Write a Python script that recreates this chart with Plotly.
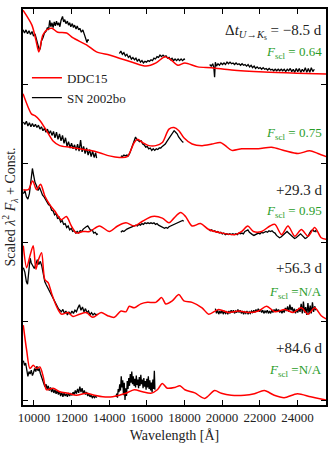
import plotly.graph_objects as go

# Spectra of SN 2002bo vs the DDC15 model, five epochs stacked with offsets.
# Flux values are relative to each epoch's offset (1 unit = spacing between epochs).

OFFSETS = [4, 3, 2, 1, 0]
EPOCH_LABELS = ["Δ<i>t</i><sub><i>U</i>→<i>K</i><sub>s</sub></sub> = −8.5 d", "", "+29.3 d", "+56.3 d", "+84.6 d"]
FSCL_LABELS = ["= 0.64", "= 0.75", "= 0.95", "=N/A", "=N/A"]
EPOCH_LABEL_Y = [4.67, None, 2.67, 1.68, 0.66]
FSCL_LABEL_Y = [4.41, 3.39, 2.39, 1.36, 0.38]

# ---- DDC15 model ----
MOD1_WL = [9420, 9894, 10106, 10264, 10475, 10686, 10950, 11266, 11741, 12058, 12797, 13325, 14011, 14538,
           15224, 15963, 16490, 16966, 17282, 17652, 18021, 18707, 19446, 20501, 22243, 23984, 25567]
MOD1_FL = [0.95, 0.76, 0.57, 0.42, 0.635, 0.70, 0.72, 0.67, 0.66, 0.60, 0.51, 0.42, 0.38, 0.34,
           0.29, 0.24, 0.28, 0.36, 0.32, 0.25, 0.28, 0.23, 0.22, 0.19, 0.165, 0.15, 0.14]

MOD2_WL = [9420, 9699, 9879, 10053, 10317, 10670, 11018, 11372, 11900, 12427, 12955, 13483, 14011, 14538,
           14960, 15330, 15504, 15768, 16121, 16475, 16823, 17177, 17441, 17704, 17968, 18406, 18934,
           19462, 19905, 20169, 20517, 21045, 21926, 22628, 23335, 24037, 24654, 25092, 25530]
MOD2_FL = [0.89, 0.715, 0.63, 0.61, 0.55, 0.42, 0.29, 0.23, 0.21, 0.19, 0.17, 0.14, 0.10, 0.08,
           0.09, 0.27, 0.31, 0.27, 0.23, 0.23, 0.27, 0.44, 0.46, 0.42, 0.33, 0.25, 0.23,
           0.25, 0.27, 0.23, 0.17, 0.19, 0.19, 0.21, 0.165, 0.13, 0.165, 0.13, 0.09]

MOD3_WL = [9435, 9699, 9931, 10142, 10354, 10580, 10844, 11108, 11462, 11726, 11989, 12253, 12602, 12955,
           13483, 14011, 14449, 14892, 15330, 15768, 16295, 16823, 17177, 17441, 17795, 18058, 18406,
           18850, 19288, 19990, 20696, 21045, 21362, 21662, 22100, 22543, 22807, 23156, 23500, 23862,
           24211, 24565, 24918, 25267, 25530]
MOD3_FL = [0.67, 0.67, 0.78, 0.67, 0.74, 0.59, 0.48, 0.40, 0.29, 0.33, 0.21, 0.12, 0.14, 0.14,
           0.21, 0.14, 0.21, 0.25, 0.21, 0.27, 0.33, 0.31, 0.25, 0.31, 0.38, 0.33, 0.21,
           0.24, 0.165, 0.12, 0.10, 0.14, 0.21, 0.14, 0.14, 0.21, 0.23, 0.10, 0.21, 0.08,
           0.165, 0.08, 0.19, 0.06, 0.04]

MOD4_WL = [9435, 9615, 9789, 9963, 10106, 10227, 10406, 10580, 10755, 10934, 11198, 11462, 11810, 12074,
           12427, 12781, 13129, 13573, 13921, 14274, 14628, 14892, 15066, 15330, 15683, 16032, 16475,
           16792, 17003, 17351, 17704, 17968, 18406, 18934, 19288, 19815, 20343, 20871, 21398, 21926,
           22364, 22807, 23335, 23773, 24211, 24565, 24918, 25267, 25530]
MOD4_FL = [0.96, 0.68, 0.83, 0.96, 0.66, 0.77, 0.87, 0.53, 0.49, 0.36, 0.19, 0.09, 0.11, 0.06,
           0.09, 0.11, 0.05, 0.11, 0.07, 0.05, 0.13, 0.12, 0.19, 0.17, 0.22, 0.24, 0.24,
           0.30, 0.22, 0.26, 0.34, 0.26, 0.24, 0.17, 0.09, 0.15, 0.11, 0.13, 0.11, 0.13,
           0.19, 0.12, 0.15, 0.11, 0.17, 0.09, 0.17, 0.07, 0.03]

MOD5_WL = [9435, 9615, 9789, 9963, 10142, 10317, 10491, 10670, 11018, 11372, 11810, 12253, 12781, 13219,
           13657, 14185, 14538, 14892, 15330, 15768, 16211, 16559, 16823, 17087, 17493, 17757, 18021,
           18549, 19076, 19604, 19958, 20485, 21187, 21715, 22243, 22770, 23298, 24000, 24707, 25319, 25551]
MOD5_FL = [0.95, 0.63, 0.40, 0.44, 0.40, 0.42, 0.30, 0.13, 0.15, 0.105, 0.085, 0.06, 0.085, 0.06,
           0.04, 0.04, 0.06, 0.085, 0.13, 0.105, 0.085, 0.13, 0.21, 0.15, 0.16, 0.18, 0.13,
           0.09, 0.02, 0.12, 0.085, 0.06, 0.06, 0.08, 0.12, 0.06, 0.03, 0.08, 0.04, 0.01, 0.0]

# ---- SN 2002bo observed (None separates the J / H / K windows) ----
OBS1_WL = [9420, 9500, 9580, 9660, 9740, 9820, 9900, 9980, 10060, 10140, 10220, 10290, 10340, 10400, 10480,
           10560, 10640, 10720, 10780, 10840, 10900, 10960, 11020, 11080, 11140, 11200, 11260, 11320, 11380,
           11440, 11520, 11580, 11640, 11700, 11780, 11840, 11900, 11960, 12040, 12100, 12160, 12240, 12300,
           12380, 12440, 12520, 12600, 12680, 12760, 12820, 12870, 12900, None,
           14540, 14620, 14700, 14780, 14860, 14940, 15020, 15100, 15180, 15260, 15340, 15420, 15500, 15580,
           15660, 15740, 15820, 15900, 15980, 16060, 16140, 16220, 16300, 16380, 16460, 16540, 16620, 16700,
           16780, 16860, 16940, 17020, 17100, 17180, 17260, 17340, 17420, 17500, 17580, 17660, 17740, 17820,
           17900, 17980, 18020, None,
           19340, 19420, 19500, 19560, 19600, 19640, 19700, 19780, 19860, 19940, 20020, 20100, 20180, 20260,
           20340, 20420, 20500, 20580, 20660, 20740, 20820, 20900, 20980, 21060, 21140, 21220, 21300, 21380,
           21460, 21540, 21620, 21700, 21780, 21860, 21940, 22020, 22100, 22180, 22260, 22340, 22420, 22500,
           22580, 22660, 22740, 22820, 22900, 22980, 23060, 23140, 23220, 23300, 23380, 23460, 23540, 23620,
           23700, 23780, 23860, 23940, 24020, 24100, 24180, 24260, 24340, 24420, 24500, 24580, 24660, 24740,
           24820, 24900]
OBS1_FL = [0.70, 0.66, 0.70, 0.65, 0.69, 0.64, 0.68, 0.62, 0.65, 0.58, 0.52, 0.44, 0.47, 0.56, 0.60,
           0.66, 0.68, 0.73, 0.70, 0.82, 0.74, 0.79, 0.73, 0.80, 0.75, 0.81, 0.76, 0.79, 0.74,
           0.82, 0.87, 0.80, 0.83, 0.78, 0.81, 0.76, 0.79, 0.74, 0.78, 0.73, 0.76, 0.71, 0.75,
           0.70, 0.72, 0.67, 0.70, 0.64, 0.60, 0.54, 0.58, 0.56, None,
           0.40, 0.43, 0.39, 0.41, 0.37, 0.39, 0.35, 0.37, 0.33, 0.35, 0.32, 0.34, 0.30, 0.33,
           0.29, 0.31, 0.28, 0.30, 0.29, 0.31, 0.30, 0.32, 0.31, 0.34, 0.33, 0.36, 0.35, 0.38,
           0.36, 0.38, 0.36, 0.37, 0.34, 0.35, 0.32, 0.34, 0.31, 0.33, 0.31, 0.33, 0.31, 0.33,
           0.31, 0.33, 0.32, None,
           0.26, 0.24, 0.27, 0.22, 0.10, 0.29, 0.24, 0.27, 0.25, 0.28, 0.26, 0.28, 0.26, 0.29,
           0.27, 0.29, 0.27, 0.28, 0.26, 0.28, 0.26, 0.27, 0.25, 0.27, 0.25, 0.26, 0.24, 0.26,
           0.23, 0.25, 0.22, 0.24, 0.21, 0.23, 0.21, 0.22, 0.20, 0.22, 0.20, 0.21, 0.19, 0.21,
           0.19, 0.20, 0.18, 0.20, 0.18, 0.20, 0.18, 0.20, 0.18, 0.20, 0.17, 0.20, 0.18, 0.21,
           0.17, 0.20, 0.16, 0.21, 0.17, 0.21, 0.16, 0.20, 0.17, 0.22, 0.16, 0.21, 0.16, 0.22,
           0.17, 0.20]

OBS2_WL = [9440, 9520, 9600, 9680, 9760, 9840, 9920, 10000, 10080, 10160, 10240, 10320, 10400, 10480,
           10560, 10640, 10720, 10800, 10880, 10960, 11040, 11120, 11200, 11280, 11360, 11440, 11520, 11600,
           11680, 11760, 11840, 11920, 12000, 12080, 12160, 12240, 12320, 12400, 12480, 12560, 12640, 12720,
           12800, 12880, 12960, 13040, 13120, 13200, 13280, 13330, None,
           14620, 14700, 14780, 14860, 14940, 15020, 15100, 15180, 15250, 15330, 15400, 15460, 15540, 15620,
           15700, 15780, 15860, 15940, 16020, 16100, 16180, 16260, 16340, 16420, 16500, 16580, 16660, 16740,
           16820, 16900, 16980, 17060, 17140, 17220, 17300, 17380, 17450, 17530, 17610, 17690, 17770, 17850,
           17940]
OBS2_FL = [0.53, 0.50, 0.54, 0.48, 0.52, 0.47, 0.51, 0.47, 0.50, 0.46, 0.49, 0.44, 0.47, 0.42,
           0.45, 0.40, 0.44, 0.38, 0.42, 0.36, 0.41, 0.33, 0.40, 0.31, 0.38, 0.29, 0.36, 0.26,
           0.33, 0.22, 0.28, 0.20, 0.26, 0.19, 0.24, 0.17, 0.25, 0.16, 0.30, 0.15, 0.22, 0.13,
           0.20, 0.11, 0.18, 0.09, 0.16, 0.08, 0.14, 0.07, None,
           0.10, 0.09, 0.11, 0.10, 0.11, 0.10, 0.14, 0.19, 0.25, 0.30, 0.34, 0.31, 0.30, 0.28,
           0.29, 0.25, 0.24, 0.21, 0.22, 0.19, 0.20, 0.17, 0.19, 0.17, 0.19, 0.18, 0.20, 0.20,
           0.22, 0.23, 0.25, 0.28, 0.31, 0.35, 0.37, 0.40, 0.42, 0.40, 0.38, 0.34, 0.31, 0.29,
           0.27]

OBS3_WL = [9440, 9520, 9600, 9680, 9760, 9840, 9920, 9980, 10060, 10140, 10220, 10300, 10380, 10460,
           10540, 10620, 10700, 10780, 10860, 10940, 11020, 11100, 11180, 11260, 11340, 11420, 11500, 11580,
           11660, 11740, 11820, 11900, 11980, 12060, 12140, 12220, 12300, 12380, 12460, 12540, 12620, 12700,
           12780, 12860, 12940, 13020, 13100, 13180, 13260, 13340, 13400, None,
           14620, 14700, 14780, 14860, 14940, 15020, 15100, 15180, 15260, 15340, 15420, 15500, 15580, 15660,
           15740, 15820, 15900, 15980, 16060, 16140, 16220, 16300, 16380, 16460, 16540, 16620, 16700, 16780,
           16860, 16940, 17020, 17100, 17180, 17260, 17340, 17420, 17500, 17580, 17660, 17740, 17820, 17900,
           17960, None,
           19290, 19370, 19450, 19530, 19610, 19690, 19770, 19850, 19930, 20010, 20090, 20170, 20250, 20330,
           20410, 20490, 20570, 20650, 20730, 20810, 20890, 20970, 21050, 21130, 21210, 21290, 21370, 21450,
           21530, 21610, 21690, 21770, 21850, 21930, 22010, 22090, 22170, 22250, 22330, 22410, 22490, 22570,
           22650, 22730, 22810, 22890, 22970, 23050, 23130, 23210, 23290, 23370, 23450, 23530, 23610, 23690,
           23770, 23850, 23930, 24010, 24090, 24170, 24250, 24330, 24410, 24490, 24570, 24650, 24730, 24810,
           24890, 24970, 25000]
OBS3_FL = [0.62, 0.66, 0.58, 0.55, 0.62, 0.80, 0.94, 0.86, 0.76, 0.72, 0.66, 0.70, 0.64, 0.60,
           0.58, 0.54, 0.52, 0.48, 0.47, 0.41, 0.40, 0.35, 0.37, 0.30, 0.32, 0.26, 0.28, 0.23,
           0.24, 0.19, 0.21, 0.16, 0.18, 0.14, 0.15, 0.12, 0.14, 0.12, 0.15, 0.14, 0.17, 0.19,
           0.20, 0.21, 0.18, 0.15, 0.16, 0.12, 0.13, 0.10, 0.11, None,
           0.13, 0.15, 0.14, 0.16, 0.17, 0.18, 0.19, 0.20, 0.20, 0.21, 0.22, 0.21, 0.23, 0.22,
           0.24, 0.23, 0.25, 0.24, 0.25, 0.24, 0.25, 0.24, 0.25, 0.23, 0.24, 0.22, 0.21, 0.20,
           0.19, 0.18, 0.19, 0.18, 0.20, 0.21, 0.22, 0.23, 0.24, 0.25, 0.26, 0.27, 0.27, 0.28,
           0.27, None,
           0.17, 0.15, 0.16, 0.14, 0.15, 0.13, 0.14, 0.12, 0.13, 0.11, 0.12, 0.10, 0.11, 0.10,
           0.11, 0.10, 0.11, 0.10, 0.11, 0.10, 0.12, 0.11, 0.12, 0.11, 0.14, 0.15, 0.16, 0.13,
           0.11, 0.10, 0.09, 0.10, 0.11, 0.12, 0.11, 0.13, 0.12, 0.13, 0.14, 0.13, 0.15, 0.14,
           0.15, 0.13, 0.12, 0.09, 0.07, 0.06, 0.07, 0.09, 0.11, 0.13, 0.14, 0.12, 0.10, 0.08,
           0.06, 0.05, 0.06, 0.08, 0.10, 0.11, 0.09, 0.07, 0.05, 0.06, 0.08, 0.12, 0.15, 0.16,
           0.14, 0.15, 0.13]

OBS4_WL = [9440, 9520, 9600, 9660, 9740, 9800, 9860, 9940, 10020, 10100, 10180, 10260, 10340, 10420,
           10500, 10580, 10660, 10740, 10820, 10900, 10980, 11060, 11140, 11220, 11300, 11380, 11460, 11540,
           11620, 11700, 11780, 11860, 11940, 12020, 12100, 12180, 12260, 12340, 12420, 12500, 12580, 12660,
           12740, 12820, 12900, 12980, 13060, 13140, 13220, 13300, 13380, None,
           19640, 19700, 19760, 19820, 19880, 19940, 20000, 20060, 20120, 20180, 20240, 20300, 20360, 20420,
           20480, 20540, 20600, 20660, 20720, 20780, 20840, 20900, 20960, 21020, 21080, 21140, 21200, 21260,
           21320, 21380, 21440, 21500, 21560, 21620, 21680, 21740, 21800, 21860, 21920, 21980, 22040, 22100,
           22160, 22220, 22280, 22340, 22400, 22460, 22520, 22580, 22640, 22700, 22760, 22820, 22880, 22940,
           23000, 23060, 23120, 23180, 23240, 23300, 23360, 23420, 23480, 23540, 23600, 23660, 23720, 23780,
           23840, 23900, 23960, 24020, 24080, 24140, 24200, 24260, 24320, 24380, 24440, 24500, 24560, 24620,
           24680, 24740, 24800, 24860, 24920, 24980]
OBS4_FL = [0.68, 0.62, 0.50, 0.47, 0.66, 0.80, 0.74, 0.70, 0.67, 0.72, 0.78, 0.72, 0.76, 0.70,
           0.60, 0.50, 0.46, 0.42, 0.40, 0.35, 0.31, 0.28, 0.22, 0.19, 0.16, 0.14, 0.12, 0.15,
           0.10, 0.13, 0.08, 0.12, 0.09, 0.13, 0.10, 0.14, 0.12, 0.17, 0.21, 0.14, 0.18, 0.12,
           0.16, 0.11, 0.13, 0.08, 0.11, 0.08, 0.10, 0.08, 0.09, None,
           0.16, 0.10, 0.14, 0.09, 0.13, 0.10, 0.14, 0.09, 0.13, 0.10, 0.12, 0.09, 0.13, 0.10,
           0.14, 0.11, 0.14, 0.10, 0.13, 0.11, 0.15, 0.11, 0.14, 0.10, 0.13, 0.09, 0.12, 0.10,
           0.13, 0.09, 0.12, 0.10, 0.13, 0.11, 0.14, 0.11, 0.15, 0.12, 0.16, 0.12, 0.15, 0.11,
           0.14, 0.10, 0.13, 0.11, 0.14, 0.10, 0.13, 0.10, 0.14, 0.11, 0.15, 0.12, 0.16, 0.12,
           0.15, 0.11, 0.14, 0.10, 0.14, 0.11, 0.17, 0.13, 0.19, 0.12, 0.21, 0.14, 0.18, 0.12,
           0.16, 0.10, 0.15, 0.11, 0.17, 0.12, 0.22, 0.10, 0.25, 0.11, 0.18, 0.08, 0.23, 0.09,
           0.20, 0.10, 0.24, 0.12, 0.19, 0.14]

OBS5_WL = [9440, 9500, 9560, 9620, 9680, 9740, 9800, 9860, 9920, 9980, 10040, 10100, 10160, 10220,
           10280, 10340, 10400, 10460, 10520, 10580, 10640, 10700, 10760, 10820, 10880, 10940, 11000, 11060,
           11120, 11180, 11240, 11300, 11360, 11420, 11480, 11540, 11600, 11660, 11720, 11780, 11840, 11900,
           11960, 12020, 12080, 12140, 12200, 12260, 12320, 12380, 12440, 12500, 12560, 12620, 12680, 12740,
           12800, 12860, 12920, 12980, 13040, 13100, 13160, 13220, 13280, 13340, None,
           14360, 14400, 14440, 14480, 14520, 14560, 14600, 14640, 14680, 14720, 14760, 14800, 14840, 14880,
           14920, 14960, 15000, 15040, 15080, 15120, 15160, 15200, 15240, 15280, 15320, 15360, 15400, 15440,
           15480, 15520, 15560, 15600, 15640, 15680, 15720, 15760, 15800, 15840, 15880, 15920, 15960, 16000,
           16040, 16080, 16120, 16160, 16200, 16240, 16280, 16320, 16360, 16400, 16430]
OBS5_FL = [0.50, 0.44, 0.47, 0.36, 0.30, 0.36, 0.33, 0.38, 0.31, 0.35, 0.40, 0.36, 0.43, 0.37,
           0.40, 0.34, 0.30, 0.25, 0.22, 0.17, 0.20, 0.14, 0.18, 0.12, 0.16, 0.10, 0.14, 0.09,
           0.13, 0.08, 0.12, 0.07, 0.11, 0.05, 0.10, 0.04, 0.09, 0.05, 0.08, 0.04, 0.09, 0.05,
           0.08, 0.06, 0.10, 0.07, 0.12, 0.08, 0.14, 0.09, 0.17, 0.10, 0.15, 0.08, 0.12, 0.07,
           0.10, 0.05, 0.08, 0.04, 0.06, 0.03, 0.05, 0.03, 0.05, 0.03, None,
           0.04, 0.08, 0.03, 0.14, 0.10, 0.20, 0.12, 0.30, 0.16, 0.25, 0.06, 0.22, 0.00, 0.15,
           0.05, 0.24, 0.14, 0.28, 0.18, 0.33, 0.22, 0.36, 0.20, 0.30, 0.18, 0.27, 0.16, 0.31,
           0.19, 0.26, 0.15, 0.29, 0.18, 0.32, 0.20, 0.26, 0.15, 0.28, 0.17, 0.24, 0.13, 0.27,
           0.16, 0.30, 0.14, 0.25, 0.12, 0.22, 0.10, 0.26, 0.14, 0.37, 0.13]

X_TICKS = [10000, 12000, 14000, 16000, 18000, 20000, 22000, 24000]
X_TICK_TEXT = ["10000", "12000", "14000", "16000", "18000", "20000", "22000", "24000"]
Y_TICKS = [0, 1, 2, 3, 4]

COR_MODELO = '#FF0000'
COR_OBS = '#000000'
COR_FSCL = '#2a9d2a'
FONTE = "Liberation Serif"

modelos = [(MOD1_WL, MOD1_FL), (MOD2_WL, MOD2_FL), (MOD3_WL, MOD3_FL), (MOD4_WL, MOD4_FL), (MOD5_WL, MOD5_FL)]
observados = [(OBS1_WL, OBS1_FL), (OBS2_WL, OBS2_FL), (OBS3_WL, OBS3_FL), (OBS4_WL, OBS4_FL), (OBS5_WL, OBS5_FL)]

fig = go.Figure()

for i, (off, (owl, ofl), (mwl, mfl)) in enumerate(zip(OFFSETS, observados, modelos)):
    fig.add_trace(go.Scatter(
        x=owl, y=[None if v is None else v + off for v in ofl],
        mode='lines', line=dict(color=COR_OBS, width=1.3),
        name='SN 2002bo', showlegend=(i == 0), legendrank=2,
        connectgaps=False,
    ))
    fig.add_trace(go.Scatter(
        x=mwl, y=[v + off for v in mfl],
        mode='lines', line=dict(color=COR_MODELO, width=1.5, shape='spline', smoothing=0.8),
        name='DDC15', showlegend=(i == 0), legendrank=1,
    ))

# Rótulos de época e F_scl
for lab, ly, fl, fy in zip(EPOCH_LABELS, EPOCH_LABEL_Y, FSCL_LABELS, FSCL_LABEL_Y):
    if lab:
        fig.add_annotation(text=lab, x=0.993, xref='paper', y=ly, yref='y',
                           xanchor='right', yanchor='middle', showarrow=False,
                           font=dict(size=15, color='#222222', family=FONTE))
    fig.add_annotation(text="<i>F</i><sub>scl</sub> " + fl, x=0.993, xref='paper', y=fy, yref='y',
                       xanchor='right', yanchor='middle', showarrow=False,
                       font=dict(size=13, color=COR_FSCL, family=FONTE))

fig.update_layout(
    width=332, height=450,
    margin=dict(l=23, r=4, t=9, b=45),
    paper_bgcolor='white', plot_bgcolor='white',
    font=dict(family=FONTE, size=13, color='#222222'),
    xaxis=dict(
        range=[9420, 25520], tickvals=X_TICKS, ticktext=X_TICK_TEXT, ticks='inside', ticklen=5,
        tickcolor='black', mirror='allticks', showline=True, linecolor='black', linewidth=1.5,
        showgrid=False, zeroline=False, tickfont=dict(size=13, family=FONTE),
        title=dict(text='Wavelength [Å]', font=dict(size=14, family=FONTE), standoff=6),
    ),
    yaxis=dict(
        range=[-0.0635, 4.965], tickvals=Y_TICKS, showticklabels=False, ticks='inside', ticklen=5,
        tickcolor='black', mirror='allticks', showline=True, linecolor='black', linewidth=1.5,
        showgrid=False, zeroline=False,
        title=dict(text='Scaled <i>λ</i><sup>2</sup> <i>F</i><sub><i>λ</i></sub> + Const.',
                   font=dict(size=14, family=FONTE), standoff=2),
    ),
    legend=dict(x=0.013, y=0.864, xanchor='left', yanchor='top', bgcolor='rgba(0,0,0,0)',
                font=dict(size=13, family=FONTE), tracegroupgap=0),
    showlegend=True,
)

# a página padrão tem margem de 8px no body; zera para a figura ocupar a janela
fig.write_html("out.html", config={'displayModeBar': False},
               post_script="document.body.style.margin='0';")
